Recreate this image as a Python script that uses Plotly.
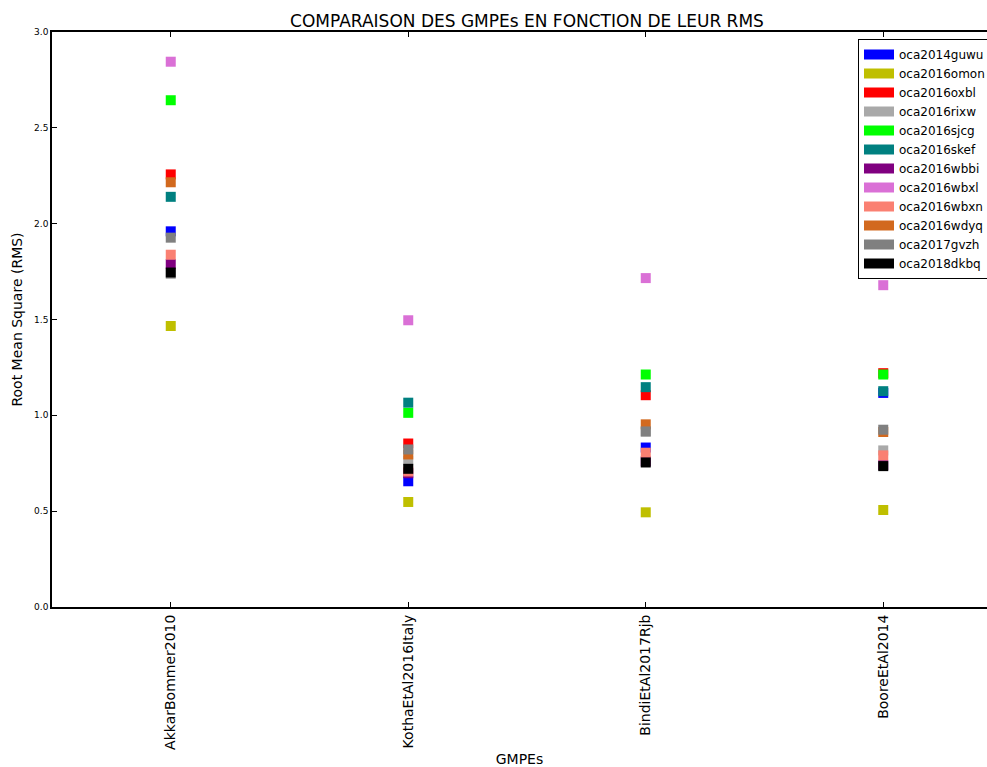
import plotly.graph_objects as go

# GMPE models compared on the x axis
gmpes = ["AkkarBommer2010", "KothaEtAl2016Italy", "BindiEtAl2017Rjb", "BooreEtAl2014"]

# Station codes (one series per station), in plotting order
stations = ["oca2014guwu", "oca2016omon", "oca2016oxbl", "oca2016rixw", "oca2016sjcg",
            "oca2016skef", "oca2016wbbi", "oca2016wbxl", "oca2016wbxn", "oca2016wdyq",
            "oca2017gvzh", "oca2018dkbq"]

colors = ["#0000ff", "#bfbf00", "#ff0000", "#a9a9a9", "#00ff00", "#008080",
          "#800080", "#da70d6", "#fa8072", "#d2691e", "#808080", "#000000"]

# RMS of each station for each GMPE (same order as gmpes)
rms_guwu = [1.960, 0.656, 0.832, 1.117]
rms_omon = [1.466, 0.548, 0.494, 0.506]
rms_oxbl = [2.257, 0.853, 1.105, 1.220]
rms_rixw = [1.738, 0.764, 0.915, 0.817]
rms_sjcg = [2.644, 1.013, 1.213, 1.213]
rms_skef = [2.140, 1.066, 1.147, 1.126]
rms_wbbi = [1.789, 0.698, 0.760, 0.740]
rms_wbxl = [2.845, 1.496, 1.716, 1.679]
rms_wbxn = [1.838, 0.707, 0.805, 0.791]
rms_wdyq = [2.216, 0.796, 0.953, 0.913]
rms_gvzh = [1.927, 0.822, 0.916, 0.925]
rms_dkbq = [1.745, 0.721, 0.754, 0.735]

series = [rms_guwu, rms_omon, rms_oxbl, rms_rixw, rms_sjcg, rms_skef,
          rms_wbbi, rms_wbxl, rms_wbxn, rms_wdyq, rms_gvzh, rms_dkbq]

y_ticks = [0.0, 0.5, 1.0, 1.5, 2.0, 2.5, 3.0]

fig = go.Figure()
xpos = list(range(len(gmpes)))

for name, col, vals in zip(stations, colors, series):
    fig.add_trace(go.Scatter(
        x=xpos, y=vals, mode="markers", name=name, showlegend=False,
        marker=dict(symbol="square", size=10, color=col, line=dict(width=0)),
    ))

# legend entries drawn as thick bars
for name, col in zip(stations, colors):
    fig.add_trace(go.Scatter(
        x=[None], y=[None], mode="lines", name=name,
        line=dict(color=col, width=10),
    ))

font = "DejaVu Sans, sans-serif"

fig.update_layout(
    width=987, height=767,
    margin=dict(l=52, r=0, t=32, b=160, autoexpand=False),
    plot_bgcolor="white", paper_bgcolor="white",
    font=dict(family=font, color="black"),
    title=dict(text="COMPARAISON DES GMPEs EN FONCTION DE LEUR RMS",
               x=527 / 987, xref="container", xanchor="center",
               y=1 - 21 / 767, yref="container", yanchor="middle",
               font=dict(size=17, family=font, color="black")),
    legend=dict(x=(858 - 52) / 935, xanchor="left", y=1 - 7 / 575, yanchor="top",
                xref="paper", yref="paper",
                bgcolor="white", bordercolor="black", borderwidth=1,
                font=dict(size=12, family=font, color="black"),
                tracegroupgap=0, itemwidth=30),
    xaxis=dict(
        range=[-0.5, -0.5 + 935 / 237.5],
        tickmode="array", tickvals=xpos, ticktext=gmpes, tickangle=-90,
        tickfont=dict(size=14, family=font, color="black"),
        ticks="inside", ticklen=5, tickcolor="black", tickwidth=0.6,
        showline=True, linecolor="black", linewidth=2, mirror="allticks",
        showgrid=False, zeroline=False,
        title=dict(text="GMPEs", font=dict(size=14, family=font, color="black"), standoff=12),
    ),
    yaxis=dict(
        range=[0, 3],
        tickmode="array", tickvals=y_ticks, ticktext=[f"{v:.1f}" for v in y_ticks],
        tickfont=dict(size=9, family=font, color="black"),
        ticks="inside", ticklen=5, tickcolor="black", tickwidth=0.6,
        showline=True, linecolor="black", linewidth=1.5,
        showgrid=False, zeroline=False,
        title=dict(text="Root Mean Square (RMS)", font=dict(size=14, family=font, color="black"), standoff=8),
    ),
)

fig.write_html("out.html")
